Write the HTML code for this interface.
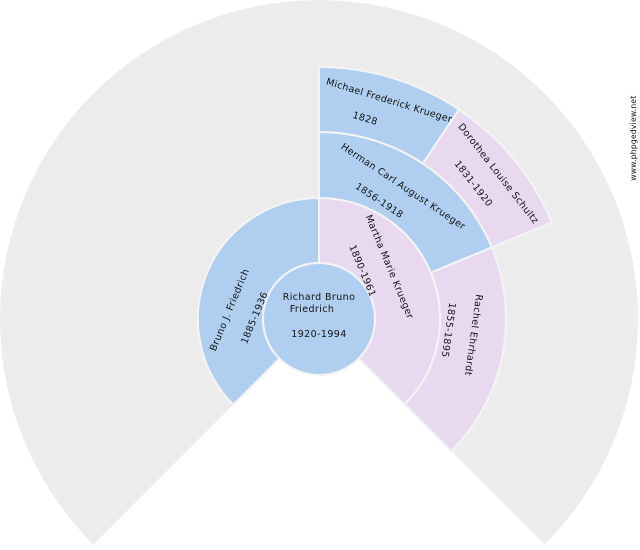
<!DOCTYPE html>
<html><head><meta charset="utf-8"><style>
html,body{margin:0;padding:0;background:#fff;}
svg{display:block;}
text{font-family:"DejaVu Sans","Liberation Sans",sans-serif;font-size:9.5px;fill:#111;letter-spacing:0.4px;}
</style></head><body>
<svg width="640" height="550" viewBox="0 0 640 550" xmlns="http://www.w3.org/2000/svg">
<path d="M319,319 L93.4,544.6 A319 319 0 1 1 544.6,544.6 Z" fill="#ececec"/>
<g stroke="#f4f4f4" stroke-width="2">
<path d="M233.4,404.6 A121 121 0 0 1 319,198 L319,263 A56 56 0 0 0 279.4,358.6 Z" fill="#b0cff0"/>
<path d="M319,198 A121 121 0 0 1 404.6,404.6 L358.6,358.6 A56 56 0 0 0 319,263 Z" fill="#e8d9f0"/>
<path d="M319,132 A187 187 0 0 1 491.8,247.4 L430.8,272.7 A121 121 0 0 0 319,198 Z" fill="#b0cff0"/>
<path d="M491.8,247.4 A187 187 0 0 1 451.2,451.2 L404.6,404.6 A121 121 0 0 0 430.8,272.7 Z" fill="#e8d9f0"/>
<path d="M319,67 A252 252 0 0 1 459,109.5 L422.9,163.5 A187 187 0 0 0 319,132 Z" fill="#b0cff0"/>
<path d="M459,109.5 A252 252 0 0 1 551.8,222.6 L491.8,247.4 A187 187 0 0 0 422.9,163.5 Z" fill="#e8d9f0"/>
<circle cx="319" cy="319" r="56" fill="#b0cff0"/>
</g>
<text x="319" y="300" text-anchor="middle">Richard Bruno</text>
<text x="312" y="312" text-anchor="middle">Friedrich</text>
<text x="319" y="337" text-anchor="middle">1920-1994</text>
<g text-anchor="middle" dominant-baseline="middle">
<text transform="translate(230,310) rotate(-67.5)">Bruno J. Friedrich</text>
<text transform="translate(255,318) rotate(-67.5)">1885-1936</text>
<text transform="translate(389,267) rotate(67.5)">Martha Marie Krueger</text>
<text transform="translate(362,271) rotate(67.5)">1890-1961</text>
<text transform="translate(403,187) rotate(33.75)">Herman Carl August Krueger</text>
<text transform="translate(379,201) rotate(33.75)">1856-1918</text>
<text transform="translate(473,335) rotate(98)">Rachel Ehrhardt</text>
<text transform="translate(448,330) rotate(98)">1855-1895</text>
<text transform="translate(389,101) rotate(17)" style="letter-spacing:0.3px">Michael Frederick Krueger</text>
<text transform="translate(365,119) rotate(17)">1828</text>
<text transform="translate(498,174) rotate(52)">Dorothea Louise Schultz</text>
<text transform="translate(473,184) rotate(52)">1831-1920</text>
<text transform="translate(634,138) rotate(-90)" style="font-size:7.5px;letter-spacing:0.3px">www.phpgedview.net</text>
</g>
</svg>
</body></html>
